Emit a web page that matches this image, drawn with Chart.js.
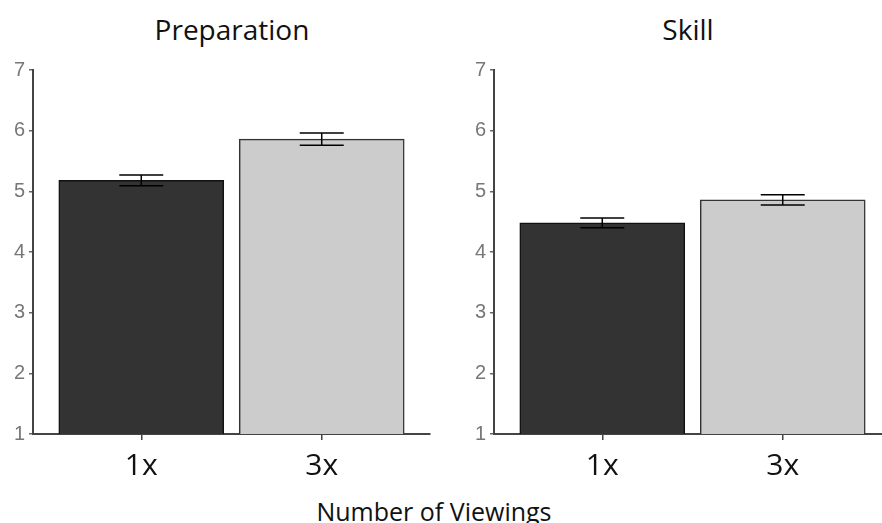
<!DOCTYPE html>
<html>
<head>
<meta charset="utf-8">
<script src="https://cdn.jsdelivr.net/npm/chart.js@4.4.1/dist/chart.umd.min.js"></script>
<style>
  html, body { margin: 0; padding: 0; background: #fff; overflow: hidden; }
  #wrap { position: relative; width: 882px; height: 523px; overflow: hidden; }
  .panel { position: absolute; top: 0; }
  .ttl { position: absolute; font-family: 'Open Sans', sans-serif; color: #111; text-align: center; white-space: nowrap; }
</style>
</head>
<body>
<div id="wrap">
  <div class="ttl" style="left:132px; width:200px; top:10px; font-size:28px;">Preparation</div>
  <div class="ttl" style="left:588px; width:200px; top:10px; font-size:28px;">Skill</div>
  <div class="panel" style="left:0px; width:441px; height:490px;"><canvas id="prep"></canvas></div>
  <div class="panel" style="left:461px; width:441px; height:490px;"><canvas id="skill"></canvas></div>
  <div class="ttl" style="left:234px; width:400px; top:494px; font-size:25px;">Number of Viewings</div>
</div>
<script>
// categories and values
const categories = ['1x', '3x'];
const prepMeans = [5.18, 5.86];
const prepErrors = [0.09, 0.10];
const skillMeans = [4.48, 4.86];
const skillErrors = [0.08, 0.085];
const yTicks = [1, 2, 3, 4, 5, 6, 7];

const barColors = ['#333333', '#cccccc'];
const barBorders = ['#111111', '#333333'];

// draws the +/- error bars on top of the bars
const errorBarPlugin = {
    id: 'errorBars',
    afterDatasetsDraw(chart, args, opts) {
        const ctx = chart.ctx;
        const x = chart.scales.x, y = chart.scales.y;
        const means = chart.data.datasets[0].data;
        ctx.save();
        ctx.strokeStyle = '#000';
        ctx.lineWidth = 1.5;
        means.forEach((pt, i) => {
            const px = x.getPixelForValue(pt.x);
            const top = y.getPixelForValue(pt.y + opts.errors[i]);
            const bot = y.getPixelForValue(pt.y - opts.errors[i]);
            ctx.beginPath();
            ctx.moveTo(px, top); ctx.lineTo(px, bot);
            ctx.moveTo(px - 22, top); ctx.lineTo(px + 22, top);
            ctx.moveTo(px - 22, bot); ctx.lineTo(px + 22, bot);
            ctx.stroke();
        });
        ctx.restore();
    }
};

function makePanel(id, means, errors) {
    const ctx = document.getElementById(id).getContext('2d');
    return new Chart(ctx, {
        type: 'bar',
        data: {
            datasets: [{
                data: means.map((v, i) => ({ x: i, y: v })),
                backgroundColor: barColors,
                borderColor: barBorders,
                borderWidth: 1.5,
                barThickness: 165
            }]
        },
        options: {
            responsive: true,
            maintainAspectRatio: false,
            animation: false,
            layout: { padding: { top: 70, right: 11, left: 0, bottom: 0 } },
            plugins: {
                legend: { display: false },
                tooltip: { enabled: false },
                errorBars: { errors: errors }
            },
            scales: {
                x: {
                    type: 'linear',
                    min: -0.6,
                    max: 1.6,
                    offset: false,
                    border: { color: '#444', width: 2 },
                    grid: { offset: false, drawOnChartArea: false, tickLength: 6, color: '#444', lineWidth: 1.5 },
                    afterBuildTicks: (scale) => {
                        scale.ticks = categories.map((c, i) => ({ value: i }));
                    },
                    afterFit: (scale) => { scale.height = 56; },
                    ticks: {
                        padding: 8,
                        color: '#111',
                        font: { family: 'Open Sans', size: 30 },
                        callback: (v) => categories[v]
                    }
                },
                y: {
                    min: 1,
                    max: 7,
                    border: { color: '#444', width: 2 },
                    grid: { drawOnChartArea: false, tickLength: 4, color: '#666', lineWidth: 1.5 },
                    afterBuildTicks: (scale) => {
                        scale.ticks = yTicks.map(v => ({ value: v }));
                    },
                    afterFit: (scale) => { scale.width = 33; },
                    ticks: {
                        padding: 4,
                        color: '#777',
                        font: { family: 'Liberation Sans', size: 20 }
                    }
                }
            }
        },
        plugins: [errorBarPlugin]
    });
}

makePanel('prep', prepMeans, prepErrors);
makePanel('skill', skillMeans, skillErrors);
</script>
</body>
</html>
